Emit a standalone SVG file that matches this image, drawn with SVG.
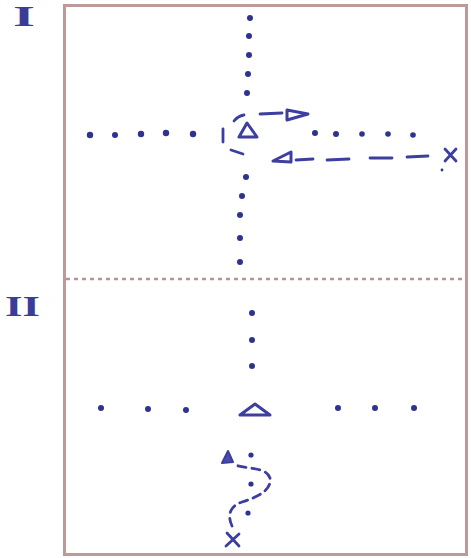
<svg xmlns="http://www.w3.org/2000/svg" width="471" height="558" viewBox="0 0 471 558">
<style>
.frame{fill:none;stroke:#bc9a9a;stroke-width:3}
.div{stroke:#b89292;stroke-width:2.5;stroke-dasharray:4 4}
.dot{fill:#2f3390}
.tri{fill:none;stroke:#3d3f9e;stroke-width:3;stroke-linejoin:round}
.trif{fill:#4a4cb0;stroke:#3d3f9e;stroke-width:2;stroke-linejoin:round}
.dash{fill:none;stroke:#3d3f9e;stroke-width:2.8;stroke-linecap:round}
.x{stroke:#3d3f9e;stroke-width:2.8;stroke-linecap:round}
.lbl{font-family:"Liberation Serif",serif;font-size:29px;font-weight:bold;fill:#3a3c9a}
</style>
<rect class="frame" x="64.5" y="5.5" width="402" height="549"/>
<line class="div" x1="66" y1="279" x2="466" y2="279"/>
<g id="label-I"><text class="lbl" x="13" y="26" textLength="22" lengthAdjust="spacingAndGlyphs">I</text></g>
<g id="label-II"><text class="lbl" x="5" y="316" textLength="35" lengthAdjust="spacingAndGlyphs">II</text></g>
<g id="dots-top">
<circle class="dot" cx="250" cy="18" r="3"/>
<circle class="dot" cx="249" cy="36" r="3"/>
<circle class="dot" cx="249" cy="55" r="3"/>
<circle class="dot" cx="248" cy="74" r="3"/>
<circle class="dot" cx="247" cy="93" r="3"/>
<circle class="dot" cx="246" cy="177" r="3"/>
<circle class="dot" cx="242" cy="196" r="3"/>
<circle class="dot" cx="240" cy="215" r="3"/>
<circle class="dot" cx="240" cy="238" r="3"/>
<circle class="dot" cx="240" cy="262" r="3"/>
<circle class="dot" cx="90" cy="135" r="3.2"/>
<circle class="dot" cx="115" cy="135" r="3"/>
<circle class="dot" cx="141" cy="134" r="3.2"/>
<circle class="dot" cx="166" cy="133" r="3.2"/>
<circle class="dot" cx="193" cy="134" r="3.2"/>
<circle class="dot" cx="315" cy="133" r="3"/>
<circle class="dot" cx="336" cy="134" r="3"/>
<circle class="dot" cx="362" cy="134" r="2.8"/>
<circle class="dot" cx="388" cy="134" r="2.8"/>
<circle class="dot" cx="413" cy="135" r="2.8"/>
<circle class="dot" cx="442" cy="170" r="1.4"/>
</g>
<g id="player-top"><polygon class="tri" points="247,123 239,137 257,137"/></g>
<g id="connectors-top">
<path class="dash" d="M234,121 Q238,116 244,115"/>
<path class="dash" d="M223,129 L223,142"/>
<path class="dash" d="M231,150 L243,154"/>
<path class="dash" d="M260,114 L282,113"/>
<polygon class="tri" points="287,110 287,120 308,114"/>
<path class="dash" d="M296,160 L313,159 M327,160 L349,159 M370,158 L392,158 M407,157 L428,156"/>
<polygon class="tri" points="273,161 291,152 291,162"/>
<path class="x" d="M445,149 L456,161 M445,161 L456,149"/>
</g>
<g id="dots-bottom">
<circle class="dot" cx="252" cy="313" r="3"/>
<circle class="dot" cx="252" cy="340" r="3"/>
<circle class="dot" cx="252" cy="366" r="3"/>
<circle class="dot" cx="101" cy="408" r="3"/>
<circle class="dot" cx="148" cy="409" r="3"/>
<circle class="dot" cx="186" cy="410" r="3"/>
<circle class="dot" cx="338" cy="408" r="3"/>
<circle class="dot" cx="375" cy="408" r="3"/>
<circle class="dot" cx="414" cy="408" r="3"/>
<circle class="dot" cx="251" cy="455" r="2.6"/>
<circle class="dot" cx="251" cy="484" r="2.6"/>
<circle class="dot" cx="248" cy="513" r="2.6"/>
</g>
<g id="player-bottom"><polygon class="tri" points="255,404 240,415 270,415"/></g>
<g id="connectors-bottom">
<path class="dash" d="M232,526 C227,515 230,506 242,502 C258,497 272,490 270,478 C266,466 246,470 233,464" stroke-dasharray="8 6"/>
<polygon class="trif" points="228,451 222,463 233,462"/>
<path class="x" d="M227,533 L239,546 M226,546 L239,534"/>
</g>
</svg>
